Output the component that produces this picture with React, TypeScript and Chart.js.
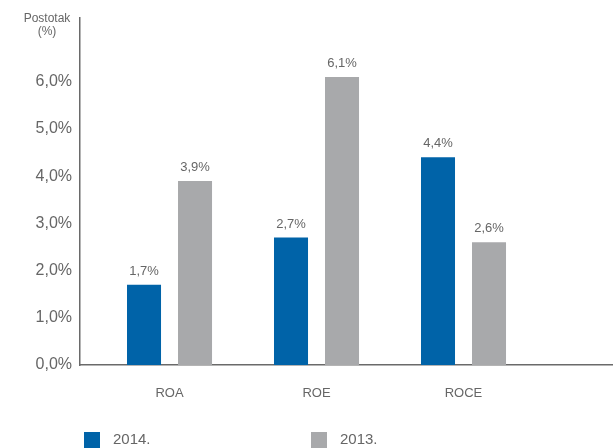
import React, { useEffect, useRef } from "react";
import { Chart, registerables } from "chart.js";

Chart.register(...registerables);

const categories = ["ROA", "ROE", "ROCE"];
const series2014 = [1.7, 2.7, 4.4];
const series2013 = [3.9, 6.1, 2.6];
const seriesLabels = ["2014.", "2013."];
const yTickLabels = ["0,0%", "1,0%", "2,0%", "3,0%", "4,0%", "5,0%", "6,0%"];
const axisTitle = ["Postotak", "(%)"];

const BLUE = "#0063a8";
const GRAY = "#a8a9ab";
const TEXT = "#666666";
const FONT = "'Liberation Sans', Arial, sans-serif";

const fmt = (v: number) => v.toFixed(1).replace(".", ",") + "%";

const extrasPlugin = {
  id: "extras",
  afterDatasetsDraw(chart: any) {
    const ctx = chart.ctx;
    ctx.save();
    ctx.fillStyle = TEXT;
    ctx.font = `13px ${FONT}`;
    ctx.textAlign = "center";
    ctx.textBaseline = "bottom";
    chart.data.datasets.forEach((ds: any, di: number) => {
      const meta = chart.getDatasetMeta(di);
      meta.data.forEach((el: any, i: number) => {
        ctx.fillText(fmt(ds.data[i].y), el.x, el.y - 7);
      });
    });
    ctx.restore();
  },
  afterDraw(chart: any) {
    const ctx = chart.ctx;
    ctx.save();
    // axis title
    ctx.fillStyle = TEXT;
    ctx.font = `12px ${FONT}`;
    ctx.textAlign = "center";
    ctx.textBaseline = "middle";
    axisTitle.forEach((t, i) => ctx.fillText(t, 47, 19 + i * 13));
    // legend
    const xs = [84, 311];
    chart.data.datasets.forEach((ds: any, i: number) => {
      ctx.fillStyle = ds.backgroundColor;
      ctx.fillRect(xs[i], 432, 16, 16);
      ctx.fillStyle = TEXT;
      ctx.font = `15px ${FONT}`;
      ctx.textAlign = "left";
      ctx.textBaseline = "top";
      ctx.fillText(ds.label, xs[i] + 29, 432);
    });
    ctx.restore();
  },
};

export default function App() {
  const ref = useRef<HTMLCanvasElement>(null);
  useEffect(() => {
    if (!ref.current) return;
    const chart = new Chart(ref.current, {
      type: "bar",
      data: {
        datasets: [
          {
            label: seriesLabels[0],
            data: categories.map((_, i) => ({ x: i, y: series2014[i] })),
            backgroundColor: BLUE,
          },
          {
            label: seriesLabels[1],
            data: categories.map((_, i) => ({ x: i, y: series2013[i] })),
            backgroundColor: GRAY,
          },
        ],
      },
      options: {
        responsive: false,
        animation: false,
        layout: { autoPadding: false, padding: { top: 13, left: 0, right: 0, bottom: 0 } },
        datasets: { bar: { categoryPercentage: 0.694, barPercentage: 0.667 } },
        plugins: { legend: { display: false }, tooltip: { enabled: false } },
        scales: {
          x: {
            type: "linear",
            min: -0.609,
            max: 3.017,
            offset: false,
            grid: { display: false, drawTicks: false },
            border: { display: true, color: "#6a6a6a", width: 1.5 },
            ticks: {
              stepSize: 1,
              includeBounds: false,
              padding: 21,
              maxRotation: 0,
              autoSkip: false,
              color: TEXT,
              font: { family: FONT, size: 13 },
              callback: (v: any) => categories[v as number] ?? "",
            },
            afterBuildTicks: (s: any) => {
              s.ticks = s.ticks.filter((t: any) => t.value >= 0 && t.value < categories.length);
            },
            afterFit: (s: any) => {
              s.height = 83;
            },
          },
          y: {
            min: 0,
            max: 7.36,
            grid: { display: false, drawTicks: false },
            border: { display: true, color: "#6a6a6a", width: 1.5 },
            ticks: {
              stepSize: 1,
              includeBounds: false,
              padding: 8,
              color: TEXT,
              font: { family: FONT, size: 16 },
              callback: (v: any) => yTickLabels[v as number],
            },
            afterFit: (s: any) => {
              s.width = 80;
            },
          },
        },
      },
      plugins: [extrasPlugin],
    });
    return () => chart.destroy();
  }, []);
  return (
    <div style={{ position: "absolute", left: 0, top: 0, width: 613, height: 448, overflow: "hidden" }}>
      <canvas ref={ref} width={613} height={448} />
    </div>
  );
}
